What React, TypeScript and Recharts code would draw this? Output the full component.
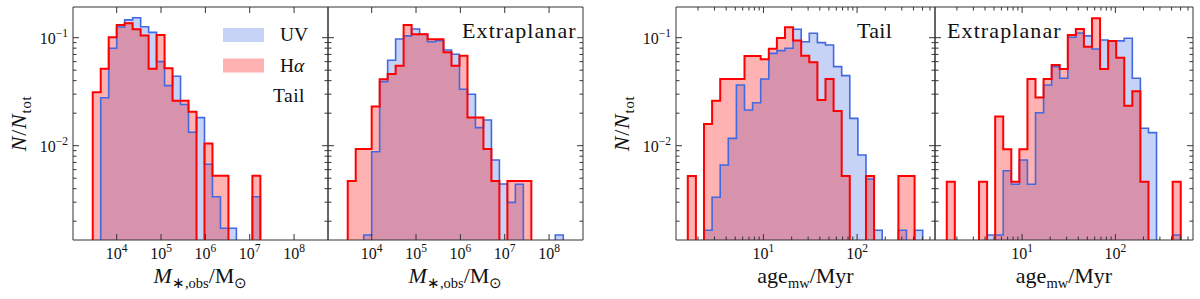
import React from 'react';
import { ComposedChart, Area, Line, XAxis, YAxis } from 'recharts';

const FONT = '"Liberation Serif", "Times New Roman", serif';
const AXIS = '#333333';
const UV_COLOR = '#4169E1';
const HA_COLOR = '#FF0000';
const FLOOR = 1e-5;

// ---- histogram bin edges (log10 units) ----
const massBinEdgesLog = [3.46, 3.64, 3.82, 4.0, 4.18, 4.36, 4.54, 4.72, 4.9, 5.08, 5.26, 5.44, 5.62, 5.8, 5.98, 6.16, 6.34, 6.52, 6.7, 6.88, 7.06, 7.24, 7.42, 7.6, 7.78, 7.96, 8.14, 8.32];
const ageBinEdgesLog = [0.192, 0.2785, 0.365, 0.4515, 0.538, 0.6245, 0.711, 0.7975, 0.884, 0.9705, 1.057, 1.1435, 1.23, 1.3165, 1.403, 1.4895, 1.576, 1.6625, 1.749, 1.8355, 1.922, 2.0085, 2.095, 2.1815, 2.268, 2.3545, 2.441, 2.5275, 2.614, 2.7005];

// ---- N/Ntot per bin ----
const massTailUV = [0, 0.0278, 0.0798, 0.1256, 0.146, 0.153, 0.1264, 0.112, 0.06, 0.036, 0.044, 0.0241, 0.0133, 0.0182, 0.00673, 0.00337, 0.00172, 0.00172, 0, 0, 0.00337];
const massTailHa = [0.0312, 0.0516, 0.101, 0.131, 0.136, 0.12, 0.105, 0.0516, 0.106, 0.052, 0.026, 0.026, 0.0206, 0, 0.0105, 0.00527, 0.00527, 0, 0, 0, 0.00527];
const massExtraUV = [0, 0, 0.00149, 0.0088, 0.0392, 0.0618, 0.0973, 0.104, 0.1205, 0.1076, 0.0918, 0.0938, 0.0769, 0.0702, 0.0333, 0.0299, 0.0147, 0.0173, 0.00738, 0.00442, 0.00299, 0.0044, 0, 0, 0, 0, 0.00149];
const massExtraHa = [0.0047, 0.0093, 0.0093, 0.023, 0.0412, 0.0461, 0.0551, 0.131, 0.1076, 0.1076, 0.0966, 0.0966, 0.0732, 0.0551, 0.068, 0.0182, 0.0182, 0.0093, 0.0047, 0, 0.0047, 0.0047, 0.0047, 0, 0, 0, 0];
const ageTailUV = [0, 0, 0.00165, 0.00333, 0.00662, 0.0117, 0.0365, 0.0214, 0.025, 0.0415, 0.0716, 0.0759, 0.0797, 0.1197, 0.0918, 0.11, 0.0899, 0.0856, 0.054, 0.0445, 0.0179, 0.0082, 0.00492, 0.00165, 0, 0, 0.00165, 0, 0.00165];
const ageTailHa = [0.00524, 0, 0.0159, 0.0261, 0.0415, 0.0415, 0.0415, 0.0678, 0.0678, 0.063, 0.079, 0.0994, 0.125, 0.094, 0.068, 0.0591, 0.0265, 0.0415, 0.0209, 0.00524, 0, 0, 0.00524, 0, 0, 0, 0.00524, 0.00524, 0];
const ageExtraUV = [0, 0, 0, 0, 0, 0.00149, 0.00149, 0.00587, 0.0044, 0.00738, 0.0044, 0.0202, 0.0365, 0.054, 0.0421, 0.101, 0.1106, 0.104, 0.0786, 0.0952, 0.0932, 0.0935, 0.0987, 0.0421, 0.0145, 0.0132, 0, 0, 0.00149];
const ageExtraHa = [0.00464, 0, 0, 0, 0.00464, 0, 0.0186, 0.00925, 0.00464, 0.00925, 0.0415, 0.028, 0.0415, 0.0558, 0.0513, 0.106, 0.1205, 0.0826, 0.151, 0.0513, 0.0932, 0.0653, 0.0234, 0.032, 0.00464, 0, 0, 0, 0.00464];

// ---- axes ----
const massDomain = [Math.pow(10, 3.015), Math.pow(10, 8.765)];
const ageDomain = [Math.pow(10, 0.066), Math.pow(10, 2.832)];
const yDomain = [Math.pow(10, -2.873), Math.pow(10, -0.716)];
const massMajorTicks = [1e4, 1e5, 1e6, 1e7, 1e8];
const ageMajorTicks = [10, 100];
const ageMinorTicks = [2, 3, 4, 5, 6, 7, 8, 9, 20, 30, 40, 50, 60, 70, 80, 90, 200, 300, 400, 500, 600];
const yMajorTicks = [0.01, 0.1];
const yMinorTicks = [0.002, 0.003, 0.004, 0.005, 0.006, 0.007, 0.008, 0.009, 0.02, 0.03, 0.04, 0.05, 0.06, 0.07, 0.08, 0.09];

function buildTable(edgesLog: number[], uv: number[], ha: number[]) {
  const lift = (v: number) => (v > 0 ? v : FLOOR);
  const n = uv.length;
  const rows: { x: number; uv: number; ha: number }[] = [];
  rows.push({ x: Math.pow(10, edgesLog[0]), uv: FLOOR, ha: FLOOR });
  for (let i = 0; i < n; i++) rows.push({ x: Math.pow(10, edgesLog[i]), uv: lift(uv[i]), ha: lift(ha[i]) });
  rows.push({ x: Math.pow(10, edgesLog[n]), uv: FLOOR, ha: FLOOR });
  return rows;
}

const fmtExp = (e: number) => (e < 0 ? '\u2212' + Math.abs(e) : String(e));
const isMajor = (majors: number[], v: number) => majors.some((m) => Math.abs(m - v) <= m * 1e-6);

const makeXTick = (majors: number[], side: 'bottom' | 'top', labels: boolean) => (props: any) => {
  const { x, y, payload } = props;
  const v = Number(payload.value);
  const major = isMajor(majors, v);
  const len = major ? 6 : 3.5;
  const dir = side === 'bottom' ? -1 : 1;
  const e = Math.round(Math.log10(v));
  return (
    <g>
      <line x1={x} x2={x} y1={y} y2={y + dir * len} stroke={AXIS} strokeWidth={1} />
      {labels && major ? (
        <text x={x} y={y + 19} textAnchor="middle" fontFamily={FONT} fontSize={16} fill="#111">
          10<tspan dy={-7} fontSize={11.5}>{fmtExp(e)}</tspan>
        </text>
      ) : null}
    </g>
  );
};

const makeYTick = (majors: number[], side: 'left' | 'right', labels: boolean) => (props: any) => {
  const { x, y, payload } = props;
  const v = Number(payload.value);
  const major = isMajor(majors, v);
  const len = major ? 6 : 3.5;
  const dir = side === 'left' ? 1 : -1;
  const e = Math.round(Math.log10(v));
  return (
    <g>
      <line x1={x} x2={x + dir * len} y1={y} y2={y} stroke={AXIS} strokeWidth={1} />
      {labels && major ? (
        <text x={x - 5} y={y + 6} textAnchor="end" fontFamily={FONT} fontSize={16} fill="#111">
          10<tspan dy={-7} fontSize={11.5}>{fmtExp(e)}</tspan>
        </text>
      ) : null}
    </g>
  );
};

type PanelProps = {
  plotLeft: number;
  plotRight: number;
  yAxisWidth: number;
  data: any[];
  xDomain: number[];
  xMajors: number[];
  xTicks: number[];
  showY: boolean;
};

function Panel({ plotLeft, plotRight, yAxisWidth, data, xDomain, xMajors, xTicks, showY }: PanelProps) {
  const yTicks = [...yMajorTicks, ...yMinorTicks];
  const left = plotLeft - yAxisWidth;
  const width = plotRight - left + 2;
  return (
    <div style={{ position: 'absolute', left, top: 0 }}>
      <ComposedChart width={width} height={299} data={data} margin={{ top: 6, right: 1, bottom: 0, left: 0 }}>
        <XAxis xAxisId="b" dataKey="x" type="number" scale="log" domain={xDomain} allowDataOverflow ticks={xTicks} interval={0}
          tickLine={false} tickSize={0} tickMargin={0} height={59} stroke={AXIS} tick={makeXTick(xMajors, 'bottom', true)} />
        <XAxis xAxisId="t" orientation="top" dataKey="x" type="number" scale="log" domain={xDomain} allowDataOverflow ticks={xTicks} interval={0}
          tickLine={false} tickSize={0} tickMargin={0} height={1} stroke={AXIS} tick={makeXTick(xMajors, 'top', false)} />
        <YAxis yAxisId="l" type="number" scale="log" domain={yDomain} allowDataOverflow ticks={yTicks} interval={0}
          tickLine={false} tickSize={0} tickMargin={0} width={yAxisWidth} stroke={AXIS} tick={makeYTick(yMajorTicks, 'left', showY)} />
        <YAxis yAxisId="r" orientation="right" type="number" scale="log" domain={yDomain} allowDataOverflow ticks={yTicks} interval={0}
          tickLine={false} tickSize={0} tickMargin={0} width={1} stroke={AXIS} tick={makeYTick(yMajorTicks, 'right', false)} />
        <Area xAxisId="b" yAxisId="l" dataKey="uv" type="stepAfter" stroke="none" fill={UV_COLOR} fillOpacity={0.3} isAnimationActive={false} />
        <Area xAxisId="b" yAxisId="l" dataKey="ha" type="stepAfter" stroke="none" fill={HA_COLOR} fillOpacity={0.3} isAnimationActive={false} />
        <Line xAxisId="b" yAxisId="l" dataKey="uv" type="stepAfter" stroke={UV_COLOR} strokeWidth={1.6} dot={false} activeDot={false} isAnimationActive={false} />
        <Line xAxisId="b" yAxisId="l" dataKey="ha" type="stepAfter" stroke={HA_COLOR} strokeWidth={2} dot={false} activeDot={false} isAnimationActive={false} />
      </ComposedChart>
    </div>
  );
}

export default function App() {
  const p1 = buildTable(massBinEdgesLog, massTailUV, massTailHa);
  const p2 = buildTable(massBinEdgesLog, massExtraUV, massExtraHa);
  const p3 = buildTable(ageBinEdgesLog, ageTailUV, ageTailHa);
  const p4 = buildTable(ageBinEdgesLog, ageExtraUV, ageExtraHa);
  const ageTicks = [...ageMajorTicks, ...ageMinorTicks];
  const txt = { fontFamily: FONT, fill: '#111' };
  return (
    <div style={{ position: 'absolute', left: 0, top: 0, width: 1200, height: 299, background: '#fff', overflow: 'hidden' }}>
      <Panel plotLeft={73} plotRight={328} yAxisWidth={73} data={p1} xDomain={massDomain} xMajors={massMajorTicks} xTicks={massMajorTicks} showY />
      <Panel plotLeft={328} plotRight={583} yAxisWidth={1} data={p2} xDomain={massDomain} xMajors={massMajorTicks} xTicks={massMajorTicks} showY={false} />
      <Panel plotLeft={676} plotRight={935} yAxisWidth={76} data={p3} xDomain={ageDomain} xMajors={ageMajorTicks} xTicks={ageTicks} showY />
      <Panel plotLeft={935} plotRight={1193} yAxisWidth={1} data={p4} xDomain={ageDomain} xMajors={ageMajorTicks} xTicks={ageTicks} showY={false} />
      <svg width={1200} height={299} style={{ position: 'absolute', left: 0, top: 0, pointerEvents: 'none' }}>
        {/* legend */}
        <rect x={223} y={28} width={41} height={14} fill={UV_COLOR} fillOpacity={0.3} />
        <rect x={223} y={58.5} width={41} height={14} fill={HA_COLOR} fillOpacity={0.3} />
        <text x={280} y={41} fontSize={19.5} {...txt}>UV</text>
        <text x={280} y={72} fontSize={19.5} {...txt}>H<tspan fontStyle="italic">α</tspan></text>
        <text x={273} y={101.5} fontSize={19.5} letterSpacing={0.5} {...txt}>Tail</text>
        {/* panel annotations */}
        <text x={462} y={38.3} fontSize={22} letterSpacing={1.1} {...txt}>Extraplanar</text>
        <text x={857} y={38.3} fontSize={22} letterSpacing={0.3} {...txt}>Tail</text>
        <text x={947} y={38.3} fontSize={22} letterSpacing={1.1} {...txt}>Extraplanar</text>
        {/* x labels */}
        {[200.5, 455.5].map((cx) => (
          <text key={cx} x={cx} y={283} textAnchor="middle" fontSize={22} {...txt}>
            <tspan fontStyle="italic">M</tspan>
            <tspan fontSize={14.5} dy={5}>∗,obs</tspan>
            <tspan dy={-5}>/M</tspan>
            <tspan fontSize={14.5} dy={5}>⊙</tspan>
          </text>
        ))}
        {[805.5, 1064].map((cx) => (
          <text key={cx} x={cx} y={283} textAnchor="middle" fontSize={22} {...txt}>
            age<tspan fontSize={14.5} dy={5}>mw</tspan>
            <tspan dy={-5}>/Myr</tspan>
          </text>
        ))}
        {/* y labels */}
        {[26, 629].map((bx) => (
          <text key={bx} transform={`translate(${bx},123.5) rotate(-90)`} textAnchor="middle" fontSize={22} letterSpacing={0.8} {...txt}>
            <tspan fontStyle="italic">N</tspan>/<tspan fontStyle="italic">N</tspan>
            <tspan fontSize={14.5} dy={5}>tot</tspan>
          </text>
        ))}
      </svg>
    </div>
  );
}
